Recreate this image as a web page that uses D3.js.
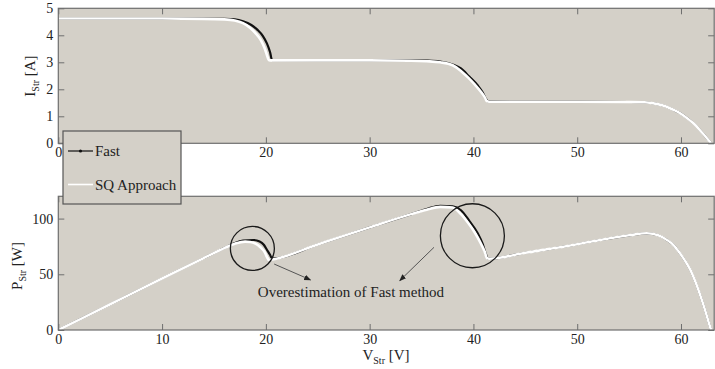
<!DOCTYPE html>
<html>
<head>
<meta charset="utf-8">
<script src="https://cdn.jsdelivr.net/npm/d3@7"></script>
<style>
  body { margin: 0; background: #fff; }
  text { font-family: "Liberation Serif", "Times New Roman", serif; fill: #222; }
</style>
</head>
<body>
<div id="chart"></div>
<script>
(function(d3) {
    'use strict';

    // ---- data ----
    var xTicks = [0, 10, 20, 30, 40, 50, 60];
    var iTicks = [0, 1, 2, 3, 4, 5];
    var pTicks = [0, 50, 100];

    // I-V, SQ approach (white)
    var sqIV_V = [0, 5, 10, 14, 16, 17, 17.8, 18.5, 19.0, 19.5, 19.9, 20.1, 20.3, 20.6, 25, 30, 34, 35.5, 36.8, 38, 38.8, 39.5, 40.1, 40.7, 41.1, 41.3, 41.5, 45, 50, 55, 56.5, 57.5, 58.5, 59.2, 59.9, 60.6, 61.2, 61.8, 62.3, 62.65, 62.9];
    var sqIV_I = [4.62, 4.62, 4.62, 4.61, 4.59, 4.55, 4.45, 4.27, 4.08, 3.83, 3.5, 3.27, 3.08, 3.07, 3.07, 3.07, 3.06, 3.04, 3.0, 2.89, 2.68, 2.43, 2.19, 1.92, 1.7, 1.56, 1.54, 1.54, 1.54, 1.53, 1.52, 1.47, 1.37, 1.25, 1.12, 0.93, 0.74, 0.5, 0.28, 0.12, 0.0];

    // I-V, Fast method (black)
    var fastIV_V = [0, 10, 14, 16, 17, 17.8, 18.6, 19.2, 19.7, 20.1, 20.4, 20.6, 25, 30, 34, 35.5, 36.8, 38, 38.8, 39.6, 40.4, 40.9, 41.2, 41.4, 45, 50, 55, 56.5, 57.5, 58.5, 59.2, 59.9, 60.6, 61.2, 61.8, 62.3, 62.65, 62.9];
    var fastIV_I = [4.62, 4.62, 4.62, 4.61, 4.59, 4.52, 4.38, 4.2, 3.98, 3.7, 3.38, 3.08, 3.07, 3.07, 3.07, 3.06, 3.03, 2.92, 2.77, 2.47, 2.15, 1.88, 1.65, 1.55, 1.54, 1.54, 1.53, 1.52, 1.47, 1.37, 1.25, 1.12, 0.93, 0.74, 0.5, 0.28, 0.12, 0.0];

    // P-V, SQ approach (white)
    var sqPV_V = [0, 5, 10, 14, 15.6, 17, 18.0, 18.5, 19.0, 19.5, 19.9, 20.1, 20.3, 20.6, 25, 30, 34, 35.5, 36.8, 38, 38.8, 39.5, 40.1, 40.7, 41.1, 41.3, 41.5, 45, 50, 52.2, 55, 56.7, 57.8, 58.65, 59.3, 59.9, 60.4, 60.9, 61.4, 61.9, 62.3, 62.7, 62.9];
    var sqPV_P = [0, 23.1, 46.2, 64.5, 71.8, 77.4, 79.3, 79.0, 77.5, 74.0, 69.7, 65.7, 62.8, 63.2, 76.8, 92.1, 104.0, 108.0, 110.5, 110.0, 104.0, 96.0, 88.0, 78.0, 70.0, 64.5, 64.0, 69.3, 77.0, 80.8, 85.0, 86.8, 85.0, 80.8, 76.0, 68.8, 62.0, 53.9, 43.0, 29.9, 18.5, 6.0, 0];

    // P-V, Fast method (black)
    var fastPV_V = [0, 10, 14, 16, 17, 17.8, 18.8, 19.4, 19.8, 20.1, 20.4, 20.6, 25, 30, 34, 35.5, 36.8, 38, 38.8, 39.6, 40.4, 40.9, 41.2, 41.4, 45, 50, 52.2, 55, 56.7, 57.8, 58.65, 59.3, 59.9, 60.4, 60.9, 61.4, 61.9, 62.3, 62.7, 62.9];
    var fastPV_P = [0, 46.2, 64.5, 73.6, 78.0, 80.2, 80.8, 79.5, 76.5, 72.0, 67.5, 64.0, 76.8, 92.1, 104.0, 108.6, 111.5, 111.0, 107.5, 98.0, 87.0, 77.0, 68.0, 64.0, 69.3, 77.0, 80.8, 85.0, 86.8, 85.0, 80.8, 76.0, 68.8, 62.0, 53.9, 43.0, 29.9, 18.5, 6.0, 0];

    var legendLabels = ['Fast', 'SQ Approach'];
    var noteText = 'Overestimation of Fast method';
    // annotation circles [V, P, radius px] and arrows [V0, P0, V1, P1]
    var noteCircles = [[18.7, 73.2, 22], [39.9, 84.6, 32]];
    var noteArrows = [[20.8, 59.2, 24.3, 45.0], [36.2, 74.2, 32.9, 44.3]];
    var notePos = [28.2, 29.6];

    // ---- layout ----
    var width = 715;
    var height = 369;
    var bgColor = '#d4d0c8';
    var frameColor = '#6e6e6e';

    var svg = d3.select('#chart')
        .append('svg')
        .attr('width', width)
        .attr('height', height);

    var x = d3.scaleLinear().domain([0, 63.2]).range([58.3, 714.2]);
    var yI = d3.scaleLinear().domain([0, 5]).range([143.3, 8.3]);
    var yP = d3.scaleLinear().domain([0, 120]).range([330, 196.3]);

    function zip(a, b) {
        return a.map(function(v, i) { return [v, b[i]]; });
    }

    function drawPanel(y, yTickVals, pairsFast, pairsSq) {
        var g = svg.append('g');
        var x0 = x.range()[0], x1 = x.range()[1];
        var y0 = y.range()[0], y1 = y.range()[1];

        g.append('rect')
            .attr('x', x0).attr('y', y1)
            .attr('width', x1 - x0).attr('height', y0 - y1)
            .attr('fill', bgColor);

        // lines: Fast underneath, SQ on top so black only shows where they part
        var line = d3.line()
            .x(function(d) { return x(d[0]); })
            .y(function(d) { return y(d[1]); })
            .curve(d3.curveMonotoneX);

        g.append('path')
            .attr('d', line(pairsFast))
            .attr('fill', 'none')
            .attr('stroke', '#111')
            .attr('stroke-width', 2.2);

        g.append('path')
            .attr('d', line(pairsSq))
            .attr('fill', 'none')
            .attr('stroke', '#fff')
            .attr('stroke-width', 2.6);

        // axes with inward ticks
        var fmt = d3.format('d');
        var bottom = g.append('g')
            .attr('transform', 'translate(0,' + y0 + ')')
            .call(d3.axisBottom(x).tickValues(xTicks).tickFormat(fmt).tickSizeInner(-6).tickSizeOuter(0).tickPadding(4));
        var top = g.append('g')
            .attr('transform', 'translate(0,' + y1 + ')')
            .call(d3.axisTop(x).tickValues(xTicks).tickSizeInner(-6).tickSizeOuter(0).tickFormat(''));
        var left = g.append('g')
            .attr('transform', 'translate(' + x0 + ',0)')
            .call(d3.axisLeft(y).tickValues(yTickVals).tickFormat(fmt).tickSizeInner(-6).tickSizeOuter(0).tickPadding(5));
        var right = g.append('g')
            .attr('transform', 'translate(' + x1 + ',0)')
            .call(d3.axisRight(y).tickValues(yTickVals).tickSizeInner(-6).tickSizeOuter(0).tickFormat(''));

        [bottom, top, left, right].forEach(function(a) {
            a.attr('font-family', null).attr('font-size', null);
            a.select('.domain').remove();
            a.selectAll('line').attr('stroke', frameColor);
            a.selectAll('text')
                .attr('fill', '#222')
                .style('font-family', '"Liberation Serif", serif')
                .style('font-size', '14px');
        });

        g.append('rect')
            .attr('x', x0).attr('y', y1)
            .attr('width', x1 - x0).attr('height', y0 - y1)
            .attr('fill', 'none')
            .attr('stroke', frameColor)
            .attr('stroke-width', 1.2);

        return g;
    }

    drawPanel(yI, iTicks, zip(fastIV_V, fastIV_I), zip(sqIV_V, sqIV_I));
    var bottomPanel = drawPanel(yP, pTicks, zip(fastPV_V, fastPV_P), zip(sqPV_V, sqPV_P));

    // axis titles with subscripts
    function axisTitle(sym, sub, unit, tx, ty, rotate) {
        var t = svg.append('text')
            .attr('transform', 'translate(' + tx + ',' + ty + ')' + (rotate ? ' rotate(-90)' : ''))
            .attr('text-anchor', 'middle')
            .style('font-size', '15px');
        t.append('tspan').text(sym);
        t.append('tspan').attr('dy', 4).style('font-size', '10px').text(sub);
        t.append('tspan').attr('dy', -4).text(' ' + unit);
    }
    axisTitle('I', 'Str', '[A]', 35, 76, true);
    axisTitle('P', 'Str', '[W]', 22, 266, true);
    axisTitle('V', 'Str', '[V]', 386, 360, false);

    // annotations
    var defs = svg.append('defs');
    defs.append('marker')
        .attr('id', 'arrow')
        .attr('viewBox', '0 0 10 10')
        .attr('refX', 9).attr('refY', 5)
        .attr('markerWidth', 7).attr('markerHeight', 7)
        .attr('orient', 'auto')
        .append('path')
        .attr('d', 'M0,1 L10,5 L0,9 Z')
        .attr('fill', '#222');

    bottomPanel.selectAll('.note-circle')
        .data(noteCircles)
        .enter()
        .append('circle')
        .attr('class', 'note-circle')
        .attr('cx', function(d) { return x(d[0]); })
        .attr('cy', function(d) { return yP(d[1]); })
        .attr('r', function(d) { return d[2]; })
        .attr('fill', 'none')
        .attr('stroke', '#1a1a1a')
        .attr('stroke-width', 1.3);

    bottomPanel.selectAll('.note-arrow')
        .data(noteArrows)
        .enter()
        .append('line')
        .attr('class', 'note-arrow')
        .attr('x1', function(d) { return x(d[0]); })
        .attr('y1', function(d) { return yP(d[1]); })
        .attr('x2', function(d) { return x(d[2]); })
        .attr('y2', function(d) { return yP(d[3]); })
        .attr('stroke', '#555')
        .attr('stroke-width', 1)
        .attr('marker-end', 'url(#arrow)');

    bottomPanel.append('text')
        .attr('x', x(notePos[0]))
        .attr('y', yP(notePos[1]))
        .attr('text-anchor', 'middle')
        .style('font-size', '15px')
        .text(noteText);

    // legend
    var legend = svg.append('g').attr('transform', 'translate(63,131)');
    legend.append('rect')
        .attr('width', 118).attr('height', 73)
        .attr('fill', bgColor)
        .attr('stroke', '#555')
        .attr('stroke-width', 1.2);

    var legendColors = ['#111', '#fff'];
    var item = legend.selectAll('.legend')
        .data(legendLabels)
        .enter()
        .append('g')
        .attr('class', 'legend')
        .attr('transform', function(d, i) { return 'translate(0,' + (20 + i * 33.5) + ')'; });

    item.append('line')
        .attr('x1', 5).attr('x2', 30)
        .attr('stroke', function(d, i) { return legendColors[i]; })
        .attr('stroke-width', function(d, i) { return i === 0 ? 1.2 : 1.6; });

    item.filter(function(d, i) { return i === 0; })
        .append('circle')
        .attr('cx', 17.5).attr('r', 1.6)
        .attr('fill', '#111');

    item.append('text')
        .attr('x', 32)
        .attr('y', 5)
        .style('font-size', '15px')
        .text(function(d) { return d; });

})(window.d3);
</script>
</body>
</html>
